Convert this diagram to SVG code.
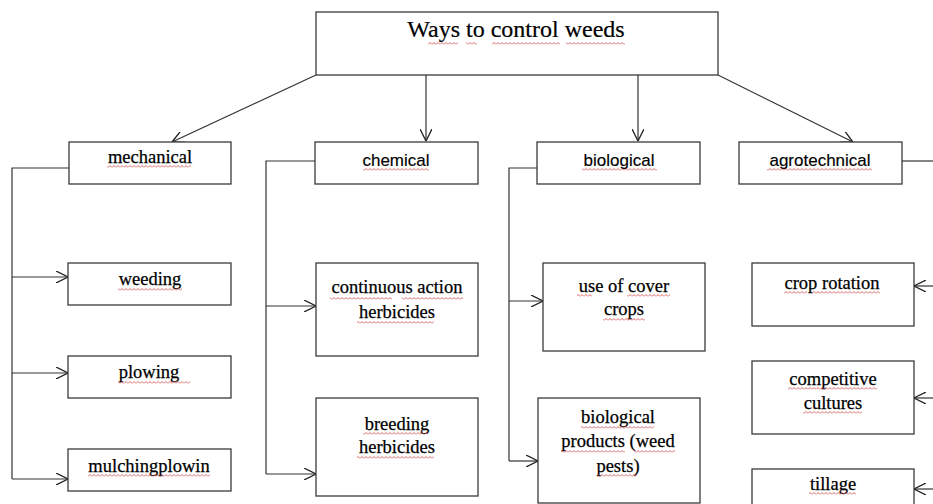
<svg xmlns="http://www.w3.org/2000/svg" width="933" height="504" viewBox="0 0 933 504">
<style>
.box{fill:#fff;stroke:#3a3a3a;stroke-width:1.3}
.ln{fill:none;stroke:#333;stroke-width:1.2}
.serif{font-family:"Liberation Serif","Times New Roman",serif;font-size:18.5px;fill:#000;stroke:#000;stroke-width:0.25;text-anchor:middle}
.sans{font-family:"Liberation Sans",Arial,sans-serif;font-size:17px;fill:#000;stroke:#000;stroke-width:0.15;text-anchor:middle}
.title{font-family:"Liberation Serif","Times New Roman",serif;font-size:24px;fill:#000;stroke:#000;stroke-width:0.2;text-anchor:middle}
.sq{fill:url(#sq)}
</style>
<defs>
<marker id="ah" viewBox="0 0 12 12" refX="12" refY="6" markerWidth="12" markerHeight="12" markerUnits="userSpaceOnUse" orient="auto">
<path d="M0,0 L12,6 L0,12" fill="none" stroke="#222" stroke-width="1.3"/>
</marker>
<pattern id="sq" patternUnits="userSpaceOnUse" width="4" height="3">
<path d="M0,2.5 L2,0.5 L4,2.5" fill="none" stroke="#d04040" stroke-width="0.8"/>
</pattern>
</defs>
<g id="connectors">
<line class="ln" x1="316" y1="75" x2="172" y2="142" marker-end="url(#ah)"/>
<line class="ln" x1="426" y1="75" x2="426" y2="141" marker-end="url(#ah)"/>
<line class="ln" x1="638" y1="75" x2="638" y2="141" marker-end="url(#ah)"/>
<line class="ln" x1="718" y1="75" x2="853" y2="142" marker-end="url(#ah)"/>
<polyline class="ln" points="69,168 12,168 12,479"/>
<line class="ln" x1="12" y1="277" x2="68" y2="277" marker-end="url(#ah)"/>
<line class="ln" x1="12" y1="373" x2="68" y2="373" marker-end="url(#ah)"/>
<line class="ln" x1="12" y1="479" x2="68" y2="479" marker-end="url(#ah)"/>
<polyline class="ln" points="315,161 266,161 266,474"/>
<line class="ln" x1="266" y1="306" x2="316" y2="306" marker-end="url(#ah)"/>
<line class="ln" x1="266" y1="474" x2="316" y2="474" marker-end="url(#ah)"/>
<polyline class="ln" points="537,168 509,168 509,461"/>
<line class="ln" x1="509" y1="301" x2="543" y2="301" marker-end="url(#ah)"/>
<line class="ln" x1="509" y1="461" x2="538" y2="461" marker-end="url(#ah)"/>
<line class="ln" x1="902" y1="161" x2="933" y2="161"/>
<line class="ln" x1="933" y1="286" x2="914" y2="286" marker-end="url(#ah)"/>
<line class="ln" x1="933" y1="398" x2="914" y2="398" marker-end="url(#ah)"/>
<line class="ln" x1="933" y1="489" x2="914" y2="489" marker-end="url(#ah)"/>
</g>
<g id="root">
<rect class="box" x="316" y="12" width="402" height="63"/>
<text class="title" x="516" y="37">Ways to control weeds</text>
<rect class="sq" x="428" y="42" width="30" height="3"/><rect class="sq" x="466" y="42" width="11" height="3"/><rect class="sq" x="492" y="42" width="68" height="3"/><rect class="sq" x="566" y="42" width="59" height="3"/>
</g>
<g id="mechanical">
<rect class="box" x="69" y="142" width="162" height="42"/>
<text class="serif" x="150" y="163">mechanical</text>
<rect class="sq" x="107" y="165" width="84" height="3"/>
</g>
<g id="chemical">
<rect class="box" x="315" y="142" width="163" height="42"/>
<text class="sans" x="396" y="166">chemical</text>
<rect class="sq" x="363" y="168" width="66" height="3"/>
</g>
<g id="biological">
<rect class="box" x="537" y="142" width="163" height="42"/>
<text class="sans" x="619" y="166">biological</text>
<rect class="sq" x="582" y="168" width="75" height="3"/>
</g>
<g id="agrotechnical">
<rect class="box" x="739" y="142" width="163" height="42"/>
<text class="sans" x="820" y="166">agrotechnical</text>
<rect class="sq" x="767" y="168" width="105" height="3"/>
</g>
<g id="weeding">
<rect class="box" x="68" y="263" width="163" height="42"/>
<text class="serif" x="150" y="285">weeding</text>
<rect class="sq" x="118" y="288" width="64" height="3"/>
</g>
<g id="plowing">
<rect class="box" x="68" y="356" width="163" height="42"/>
<text class="serif" x="149" y="378">plowing</text>
<rect class="sq" x="118" y="381" width="72" height="3"/>
</g>
<g id="mulchingplowin">
<rect class="box" x="68" y="449" width="163" height="42"/>
<text class="serif" x="149" y="472">mulchingplowin</text>
<rect class="sq" x="88" y="474" width="122" height="3"/>
</g>
<g id="continuous-action-herbicides">
<rect class="box" x="316" y="263" width="162" height="93"/>
<text class="serif" x="397" y="293">continuous action</text>
<text class="serif" x="397" y="318">herbicides</text>
<rect class="sq" x="330" y="297" width="62" height="3"/><rect class="sq" x="402" y="297" width="61" height="3"/><rect class="sq" x="357" y="321" width="77" height="3"/>
</g>
<g id="breeding-herbicides">
<rect class="box" x="316" y="398" width="162" height="98"/>
<text class="serif" x="397" y="430">breeding</text>
<text class="serif" x="397" y="453">herbicides</text>
<rect class="sq" x="363" y="432" width="65" height="3"/><rect class="sq" x="357" y="456" width="77" height="3"/>
</g>
<g id="use-of-cover-crops">
<rect class="box" x="543" y="263" width="162" height="88"/>
<text class="serif" x="624" y="292">use of cover</text>
<text class="serif" x="624" y="315">crops</text>
<rect class="sq" x="577" y="294" width="15" height="3"/><rect class="sq" x="627" y="294" width="43" height="3"/><rect class="sq" x="603" y="318" width="42" height="3"/>
</g>
<g id="biological-products">
<rect class="box" x="538" y="398" width="162" height="105"/>
<text class="serif" x="618" y="423">biological</text>
<text class="serif" x="618" y="447">products (weed</text>
<text class="serif" x="618" y="472">pests)</text>
<rect class="sq" x="581" y="426" width="73" height="3"/><rect class="sq" x="561" y="450" width="64" height="3"/><rect class="sq" x="634" y="450" width="41" height="3"/><rect class="sq" x="597" y="474" width="40" height="3"/>
</g>
<g id="crop-rotation">
<rect class="box" x="752" y="263" width="162" height="63"/>
<text class="serif" x="832" y="289">crop rotation</text>
<rect class="sq" x="784" y="291" width="23" height="3"/><rect class="sq" x="812" y="291" width="68" height="3"/>
</g>
<g id="competitive-cultures">
<rect class="box" x="752" y="361" width="162" height="73"/>
<text class="serif" x="833" y="385">competitive</text>
<text class="serif" x="833" y="409">cultures</text>
<rect class="sq" x="788" y="387" width="89" height="3"/><rect class="sq" x="803" y="411" width="59" height="3"/>
</g>
<g id="tillage">
<rect class="box" x="752" y="469" width="162" height="50"/>
<text class="serif" x="833" y="490">tillage</text>
<rect class="sq" x="809" y="492" width="47" height="3"/>
</g>
</svg>
